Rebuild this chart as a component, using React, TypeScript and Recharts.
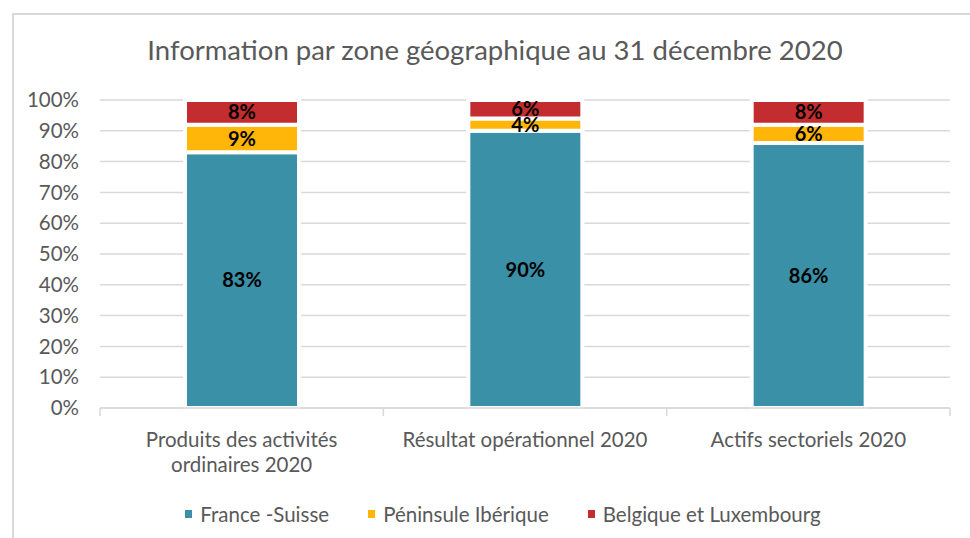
import React from "react";
import { BarChart, Bar, XAxis, YAxis, CartesianGrid, LabelList, Legend } from "recharts";

const categories = [
  "Produits des activités ordinaires 2020",
  "Résultat opérationnel 2020",
  "Actifs sectoriels 2020",
];
const categoryLines = [
  ["Produits des activités", "ordinaires 2020"],
  ["Résultat opérationnel 2020"],
  ["Actifs sectoriels 2020"],
];
const franceSuisse = [0.83, 0.9, 0.86];
const peninsuleIberique = [0.09, 0.04, 0.06];
const belgiqueLuxembourg = [0.08, 0.06, 0.08];
const yTicks = [0, 0.1, 0.2, 0.3, 0.4, 0.5, 0.6, 0.7, 0.8, 0.9, 1];

const seriesNames = ["France -Suisse", "Péninsule Ibérique", "Belgique et Luxembourg"];
const colors = ["#3A90A7", "#FFB608", "#C42D2F"];

const data = categories.map((name, i) => ({
  name,
  fs: franceSuisse[i],
  pi: peninsuleIberique[i],
  bl: belgiqueLuxembourg[i],
}));

const FONT = "Lato, 'Open Sans', sans-serif";
const W = 970;
const H = 538;
const MARGIN = { top: 100, right: 20, bottom: 0, left: 0 };
const Y_W = 100;
const PLOT_W = W - MARGIN.right - MARGIN.left - Y_W;
const HALF_BAND = PLOT_W / categories.length / 2;

const pct = (v: number) => `${Math.round(v * 100)}%`;

const XTick = (props: any) => {
  const { x, y, payload, index } = props;
  const lines = categoryLines[categories.indexOf(payload.value)] || [payload.value];
  return (
    <g>
      <line x1={x - HALF_BAND} x2={x - HALF_BAND} y1={y - 8} y2={y} stroke="#d9d9d9" strokeWidth={1.5} />
      {index === categories.length - 1 && (
        <line x1={x + HALF_BAND} x2={x + HALF_BAND} y1={y - 8} y2={y} stroke="#d9d9d9" strokeWidth={1.5} />
      )}
      <text x={x} y={y + 31} textAnchor="middle" fill="#595959" fontSize={20.5} fontFamily={FONT}>
        {lines.map((l: string, i: number) => (
          <tspan key={i} x={x} dy={i === 0 ? 0 : 25}>
            {l}
          </tspan>
        ))}
      </text>
    </g>
  );
};

const LegendContent = () => (
  <div
    style={{
      display: "flex",
      justifyContent: "center",
      gap: 39,
      fontFamily: FONT,
      fontSize: 20.5,
      color: "#595959",
      marginLeft: 36,
    }}
  >
    {seriesNames.map((n, i) => (
      <div key={n} style={{ display: "flex", alignItems: "center" }}>
        <span style={{ width: 7, height: 8, background: colors[i], display: "inline-block", marginRight: 8 }} />
        <span>{n}</span>
      </div>
    ))}
  </div>
);

const labelStyle = { fill: "#000", fontSize: 20, fontWeight: 700, fontFamily: FONT };

export default function App() {
  return (
    <div style={{ position: "absolute", left: 0, top: 0, width: W, height: H, background: "#fff", overflow: "hidden" }}>
      <div
        style={{
          position: "absolute",
          left: 12,
          top: 13,
          width: 1000,
          height: 600,
          border: "2px solid #d9d9d9",
          boxSizing: "border-box",
        }}
      />
      <div
        style={{
          position: "absolute",
          top: 33,
          left: 0,
          width: W,
          textAlign: "center",
          fontFamily: FONT,
          fontSize: 27.5,
          color: "#595959",
          paddingLeft: 20,
          boxSizing: "border-box",
        }}
      >
        Information par zone géographique au 31 décembre 2020
      </div>
      <div style={{ position: "absolute", left: 0, top: 0 }}>
        <BarChart width={W} height={H} data={data} margin={MARGIN} barSize={114}>
          <CartesianGrid vertical={false} stroke="#d9d9d9" strokeWidth={1.5} />
          <XAxis
            dataKey="name"
            interval={0}
            height={106}
            stroke="#d9d9d9"
            strokeWidth={1.5}
            tickLine={false}
            tick={<XTick />}
          />
          <YAxis
            domain={[0, 1]}
            ticks={yTicks}
            tickFormatter={pct}
            axisLine={false}
            tickLine={false}
            tickSize={0}
            tickMargin={21}
            width={Y_W}
            interval={0}
            tick={{ fill: "#595959", fontSize: 20.5, fontFamily: FONT }}
          />
          <Legend
            content={<LegendContent />}
            wrapperStyle={{ position: "absolute", top: 502, left: 0, width: W, height: 24 }}
          />
          <Bar dataKey="fs" stackId="a" fill={colors[0]} stroke="#fff" strokeWidth={4} isAnimationActive={false} name={seriesNames[0]}>
            <LabelList dataKey="fs" position="center" formatter={pct} style={labelStyle} />
          </Bar>
          <Bar dataKey="pi" stackId="a" fill={colors[1]} stroke="#fff" strokeWidth={4} isAnimationActive={false} name={seriesNames[1]}>
            <LabelList dataKey="pi" position="center" formatter={pct} style={labelStyle} />
          </Bar>
          <Bar dataKey="bl" stackId="a" fill={colors[2]} stroke="#fff" strokeWidth={4} isAnimationActive={false} name={seriesNames[2]}>
            <LabelList dataKey="bl" position="center" formatter={pct} style={labelStyle} />
          </Bar>
        </BarChart>
      </div>
    </div>
  );
}
